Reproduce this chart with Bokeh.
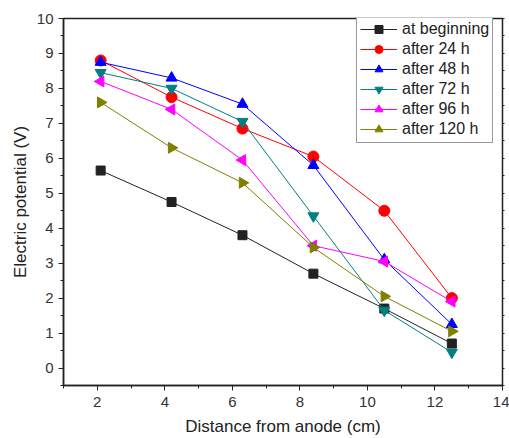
import numpy as np
from bokeh.plotting import figure
from bokeh.models import LinearAxis, Legend, LegendItem, FixedTicker, Range1d
from bokeh.embed import file_html
from bokeh.resources import INLINE

distance = [2.1, 4.2, 6.3, 8.4, 10.5, 12.5]
series_names = ["at beginning", "after 24 h", "after 48 h", "after 72 h", "after 96 h", "after 120 h"]
at_beginning = [5.65, 4.75, 3.8, 2.7, 1.7, 0.7]
after_24 = [8.8, 7.75, 6.85, 6.05, 4.5, 2.0]
after_48 = [8.75, 8.3, 7.55, 5.8, 3.1, 1.25]
after_72 = [8.45, 8.0, 7.05, 4.35, 1.65, 0.45]
after_96 = [8.2, 7.4, 5.95, 3.5, 3.05, 1.9]
after_120 = [7.6, 6.3, 5.3, 3.45, 2.05, 1.05]
x_ticks = [2, 4, 6, 8, 10, 12, 14]
y_ticks = [0, 1, 2, 3, 4, 5, 6, 7, 8, 9, 10]

values = [at_beginning, after_24, after_48, after_72, after_96, after_120]
colors = ["#222222", "#ff0000", "#0000ff", "#008080", "#ff00ff", "#808000"]
markers = ["square", "circle", "triangle", "inverted_triangle", "triangle", "triangle"]
angles = [0, 0, 0, 0, 90, -90]
sizes = [9, 11, 11, 11, 11, 11]

FONT = "Liberation Sans"

p = figure(width=509, height=438, output_backend="svg", toolbar_location=None,
           x_range=Range1d(1, 14), y_range=Range1d(-0.5, 10),
           min_border_left=63, min_border_top=18, min_border_right=7, min_border_bottom=52)
p.xgrid.visible = False
p.ygrid.visible = False
p.outline_line_color = "#222222"
p.outline_line_width = 1.5

items = []
for name, vals, c, m, a, s in zip(series_names, values, colors, markers, angles, sizes):
    l = p.line(distance, vals, line_color=c, line_width=1)
    sc = p.scatter(distance, vals, marker=m, angle=a, angle_units="deg", size=s, fill_color=c, line_color=c)
    items.append(LegendItem(label=name, renderers=[l, sc]))

for ax in (p.xaxis[0], p.yaxis[0]):
    ax.axis_line_color = "#222222"
    ax.axis_line_width = 1.5
    ax.major_tick_line_color = "#222222"
    ax.minor_tick_line_color = "#222222"
    ax.major_tick_out = 5
    ax.major_tick_in = 0
    ax.minor_tick_out = 3
    ax.minor_tick_in = 0
    ax.major_label_text_font = FONT
    ax.major_label_text_font_size = "15px"
    ax.major_label_text_color = "#333333"
    ax.axis_label_text_font = FONT
    ax.axis_label_text_font_size = "17px"
    ax.axis_label_text_font_style = "normal"
    ax.axis_label_text_color = "#222222"

p.xaxis[0].ticker = FixedTicker(ticks=x_ticks, minor_ticks=[1, 3, 5, 7, 9, 11, 13])
p.yaxis[0].ticker = FixedTicker(ticks=y_ticks, minor_ticks=[-0.5 + 0.5 * i for i in range(22)])
p.xaxis[0].axis_label = "Distance from anode (cm)"
p.yaxis[0].axis_label = "Electric potential (V)"
p.xaxis[0].major_label_standoff = 6
p.xaxis[0].axis_label_standoff = 7
p.yaxis[0].major_label_standoff = 5
p.yaxis[0].axis_label_standoff = 4

right = LinearAxis(ticker=FixedTicker(ticks=[], minor_ticks=[-0.5 + 0.5 * i for i in range(22)]),
                   major_tick_out=0, major_tick_in=0,
                   minor_tick_out=2, minor_tick_in=0, minor_tick_line_color="#222222",
                   axis_line_color="#222222", major_label_standoff=0, axis_label_standoff=0)
p.add_layout(right, "right")

legend = Legend(items=items, location=(293, 242), margin=0, padding=3, spacing=0,
                glyph_width=37, glyph_height=20, label_height=20,
                label_text_font=FONT, label_text_font_size="16px", label_text_color="#222222",
                label_standoff=5,
                border_line_color="#333333", border_line_width=1, background_fill_alpha=1)
p.add_layout(legend, "center")

open("out.html", "w").write(file_html(p, INLINE))
